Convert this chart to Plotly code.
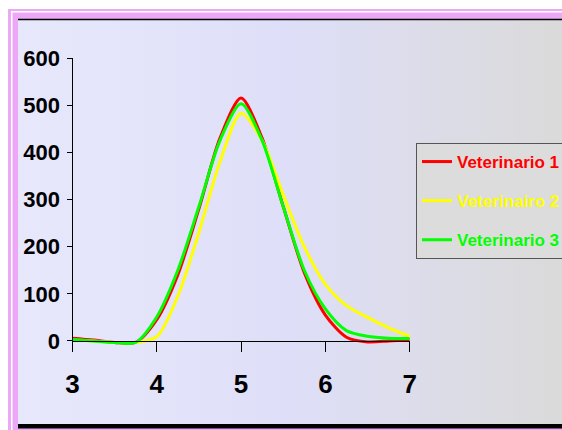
import base64
import plotly.graph_objects as go

# ---- data ----
x_vals = [3.0, 3.25, 3.5, 3.75, 4.0, 4.25, 4.5, 4.75, 5.0, 5.25, 5.5, 5.75, 6.0, 6.25, 6.5, 6.75, 7.0]
vet1 = [6, 2, -3, -3, 45, 140, 280, 430, 515, 430, 285, 145, 55, 8, -2, 0, 3]
vet2 = [2, 0, -3, -3, 9, 95, 230, 380, 483, 425, 310, 200, 120, 75, 50, 28, 10]
vet3 = [3, 0, -3, -3, 51, 150, 285, 425, 503, 425, 285, 150, 68, 22, 10, 6, 5]
names = ["Veterinario 1", "Veterinairo 2", "Veterinario 3"]
colors = ["#FF0000", "#FFFF00", "#00FF00"]
series = [vet1, vet2, vet3]
x_ticks = [3, 4, 5, 6, 7]
y_ticks = [0, 100, 200, 300, 400, 500, 600]

W, H = 562, 430
def px(v): return v / W
def py(v): return 1 - v / H

fig = go.Figure()
for nm, col, ys in zip(names, colors, series):
    fig.add_trace(go.Scatter(
        x=x_vals, y=ys, mode="lines", line=dict(color=col, width=3, shape="spline", smoothing=0.8),
        name=f"<span style='color:{col}'>{nm}</span>", legendgroup=nm))

svg = ("<svg xmlns='http://www.w3.org/2000/svg' width='100' height='100' preserveAspectRatio='none'>"
       "<defs><linearGradient id='g' x1='0' x2='1' y1='0' y2='0'>"
       "<stop offset='0' stop-color='#E8E8FC'/><stop offset='0.5' stop-color='#DEDEF8'/>"
       "<stop offset='1' stop-color='#DADADA'/></linearGradient></defs>"
       "<rect width='100' height='100' fill='url(#g)'/></svg>")
src = "data:image/svg+xml;base64," + base64.b64encode(svg.encode()).decode()

pink = "#ECA8F6"
shapes = [
    dict(type="rect", xref="paper", yref="paper", x0=0, x1=px(8), y0=0, y1=1, fillcolor="white", line_width=0, layer="below"),
    dict(type="rect", xref="paper", yref="paper", x0=0, x1=1, y0=py(9), y1=1, fillcolor="white", line_width=0, layer="below"),
    dict(type="rect", xref="paper", yref="paper", x0=px(11), x1=1, y0=py(12.5), y1=py(11), fillcolor="white", line_width=0, layer="below"),
    dict(type="rect", xref="paper", yref="paper", x0=px(11), x1=px(12.5), y0=0, y1=py(11), fillcolor="white", line_width=0, layer="below"),
    dict(type="line", xref="paper", yref="paper", x0=px(18), x1=1, y0=py(19.5), y1=py(19.5), line=dict(color="black", width=1.5), layer="below"),
    dict(type="rect", xref="paper", yref="paper", x0=px(18), x1=1, y0=py(428.5), y1=py(424), fillcolor="black", line_width=0, layer="below"),
]

fig.update_layout(
    width=W, height=H, margin=dict(l=0, r=0, t=0, b=0, autoexpand=False),
    paper_bgcolor=pink, plot_bgcolor="rgba(0,0,0,0)",
    images=[dict(source=src, xref="paper", yref="paper", x=px(18), y=py(20), sizex=1 - px(18),
                 sizey=py(20) - py(424), sizing="stretch", xanchor="left", yanchor="top", layer="below")],
    shapes=shapes,
    showlegend=True,
    legend=dict(x=px(416), y=py(143), xanchor="left", yanchor="top", bgcolor="#DCDCDC",
                bordercolor="#555555", borderwidth=1, tracegroupgap=14, traceorder="grouped",
                font=dict(family="Liberation Sans, Arial", size=17, weight="bold", color="black")),
    xaxis=dict(range=[3, 7], domain=[px(72.4), px(409.7)], anchor="free", position=py(341),
               tickvals=x_ticks, ticks="outside", ticklen=10, tickcolor="black", tickwidth=1,
               showline=True, linecolor="black", linewidth=1, showgrid=False, zeroline=False,
               ticklabelstandoff=10, automargin=False,
               tickfont=dict(family="Liberation Sans, Arial", size=26, weight="bold", color="black")),
    yaxis=dict(range=[-20, 600], domain=[py(350.4), py(58)], anchor="free", position=px(72.4),
               tickvals=y_ticks, ticks="outside", ticklen=5, tickcolor="black", tickwidth=1,
               showline=True, linecolor="black", linewidth=1, showgrid=False, zeroline=False,
               ticklabelstandoff=3, automargin=False,
               tickfont=dict(family="Liberation Sans, Arial", size=22, weight="bold", color="black")),
    xaxis2=dict(range=[3, 7], domain=[px(72.4), px(409.7)], overlaying="x", anchor="free", position=py(341),
                tickvals=x_ticks, ticks="inside", ticklen=9, tickcolor="black", showticklabels=False,
                showline=False, showgrid=False, zeroline=False),
    yaxis2=dict(range=[-20, 600], domain=[py(350.4), py(58)], overlaying="y", anchor="free", position=px(72.4),
                tickvals=y_ticks, ticks="inside", ticklen=5, tickcolor="black", showticklabels=False,
                showline=False, showgrid=False, zeroline=False),
)

fig.write_html("out.html")
